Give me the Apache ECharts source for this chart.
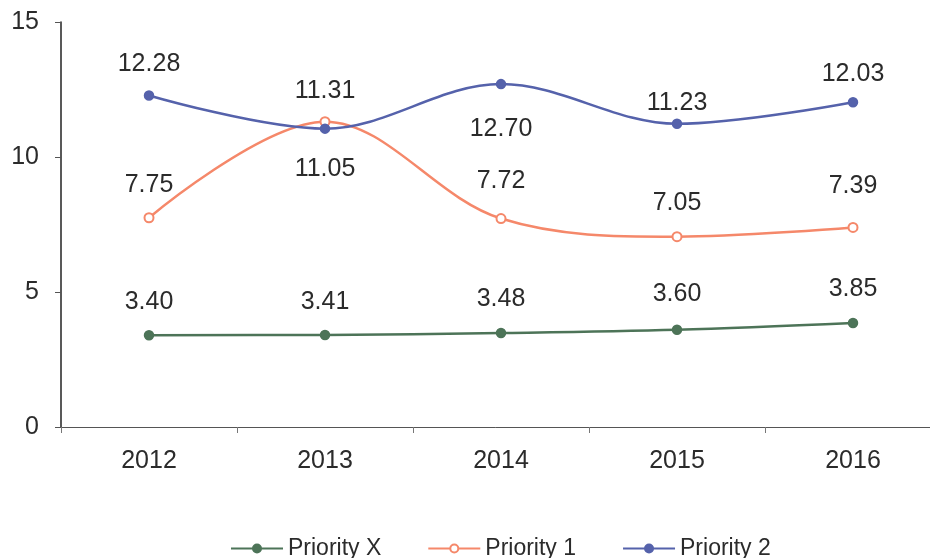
<!DOCTYPE html>
<html>
<head>
<meta charset="utf-8">
<script src="https://cdn.jsdelivr.net/npm/echarts@6/dist/echarts.min.js"></script>
<style>
  html, body { margin: 0; padding: 0; background: #fff; }
  #chart { width: 930px; height: 558px; }
</style>
</head>
<body>
<div id="chart"></div>
<script>
// Priority trend 2012-2016
var years = ['2012', '2013', '2014', '2015', '2016'];
var priorityX = [3.40, 3.41, 3.48, 3.60, 3.85];
var priority1 = [7.75, 11.31, 7.72, 7.05, 7.39];
var priority2 = [12.28, 11.05, 12.70, 11.23, 12.03];
var yTicks = [0, 5, 10, 15];

(function () {
  var green = '#4d7458';
  var orange = '#f5886a';
  var blue = '#5562ab';
  var ink = '#2b2b2b';
  var font = 'Liberation Sans, Arial, sans-serif';

  // label placement per point (position, distance)
  var lblX = [['top', 15], ['top', 15], ['top', 16], ['top', 18], ['top', 16]];
  var lbl1 = [['top', 15], ['top', 13], ['top', 19], ['top', 16], ['top', 23]];
  var lbl2 = [['top', 14], ['bottom', 23], ['bottom', 27], ['top', 3], ['top', 10]];

  function pts(vals, lbl) {
    return vals.map(function (v, i) {
      return { value: v, label: { position: lbl[i][0], distance: lbl[i][1] } };
    });
  }

  function line(name, vals, lbl, color, symbol) {
    return {
      name: name,
      type: 'line',
      smooth: 0.35,
      data: pts(vals, lbl),
      symbol: symbol,
      symbolSize: 9,
      lineStyle: { color: color, width: 2.5 },
      itemStyle: { color: color, borderColor: color, borderWidth: 1.5 },
      label: {
        show: true,
        color: ink,
        fontSize: 25,
        fontFamily: font,
        formatter: function (p) { return p.value.toFixed(2); }
      },
      z: 3
    };
  }

  var chart = echarts.init(document.getElementById('chart'), null, { renderer: 'canvas' });
  chart.setOption({
    animation: false,
    grid: { left: 61, width: 880, top: 22, bottom: 131, containLabel: false, outerBoundsMode: 'none' },
    legend: {
      left: 225,
      top: 532,
      itemWidth: 52,
      itemHeight: 10,
      itemGap: 46,
      textStyle: { color: ink, fontSize: 23, fontFamily: font },
      data: ['Priority X', 'Priority 1', 'Priority 2']
    },
    xAxis: {
      type: 'category',
      data: years,
      boundaryGap: true,
      axisLine: { lineStyle: { color: '#555', width: 1 } },
      axisTick: { show: true, length: 6, lineStyle: { color: '#777' } },
      axisLabel: { color: ink, fontSize: 25, fontFamily: font, margin: 22 }
    },
    yAxis: {
      type: 'value',
      min: yTicks[0],
      max: yTicks[yTicks.length - 1],
      interval: 5,
      axisLine: { show: true, lineStyle: { color: '#222', width: 1.5 } },
      axisTick: { show: true, length: 6, lineStyle: { color: '#555' } },
      splitLine: { show: false },
      axisLabel: { color: ink, fontSize: 25, fontFamily: font, margin: 22, verticalAlign: 'middle', padding: [4, 0, 0, 0] }
    },
    series: [
      line('Priority X', priorityX, lblX, green, 'circle'),
      line('Priority 1', priority1, lbl1, orange, 'emptyCircle'),
      line('Priority 2', priority2, lbl2, blue, 'circle')
    ]
  });
})();
</script>
</body>
</html>
